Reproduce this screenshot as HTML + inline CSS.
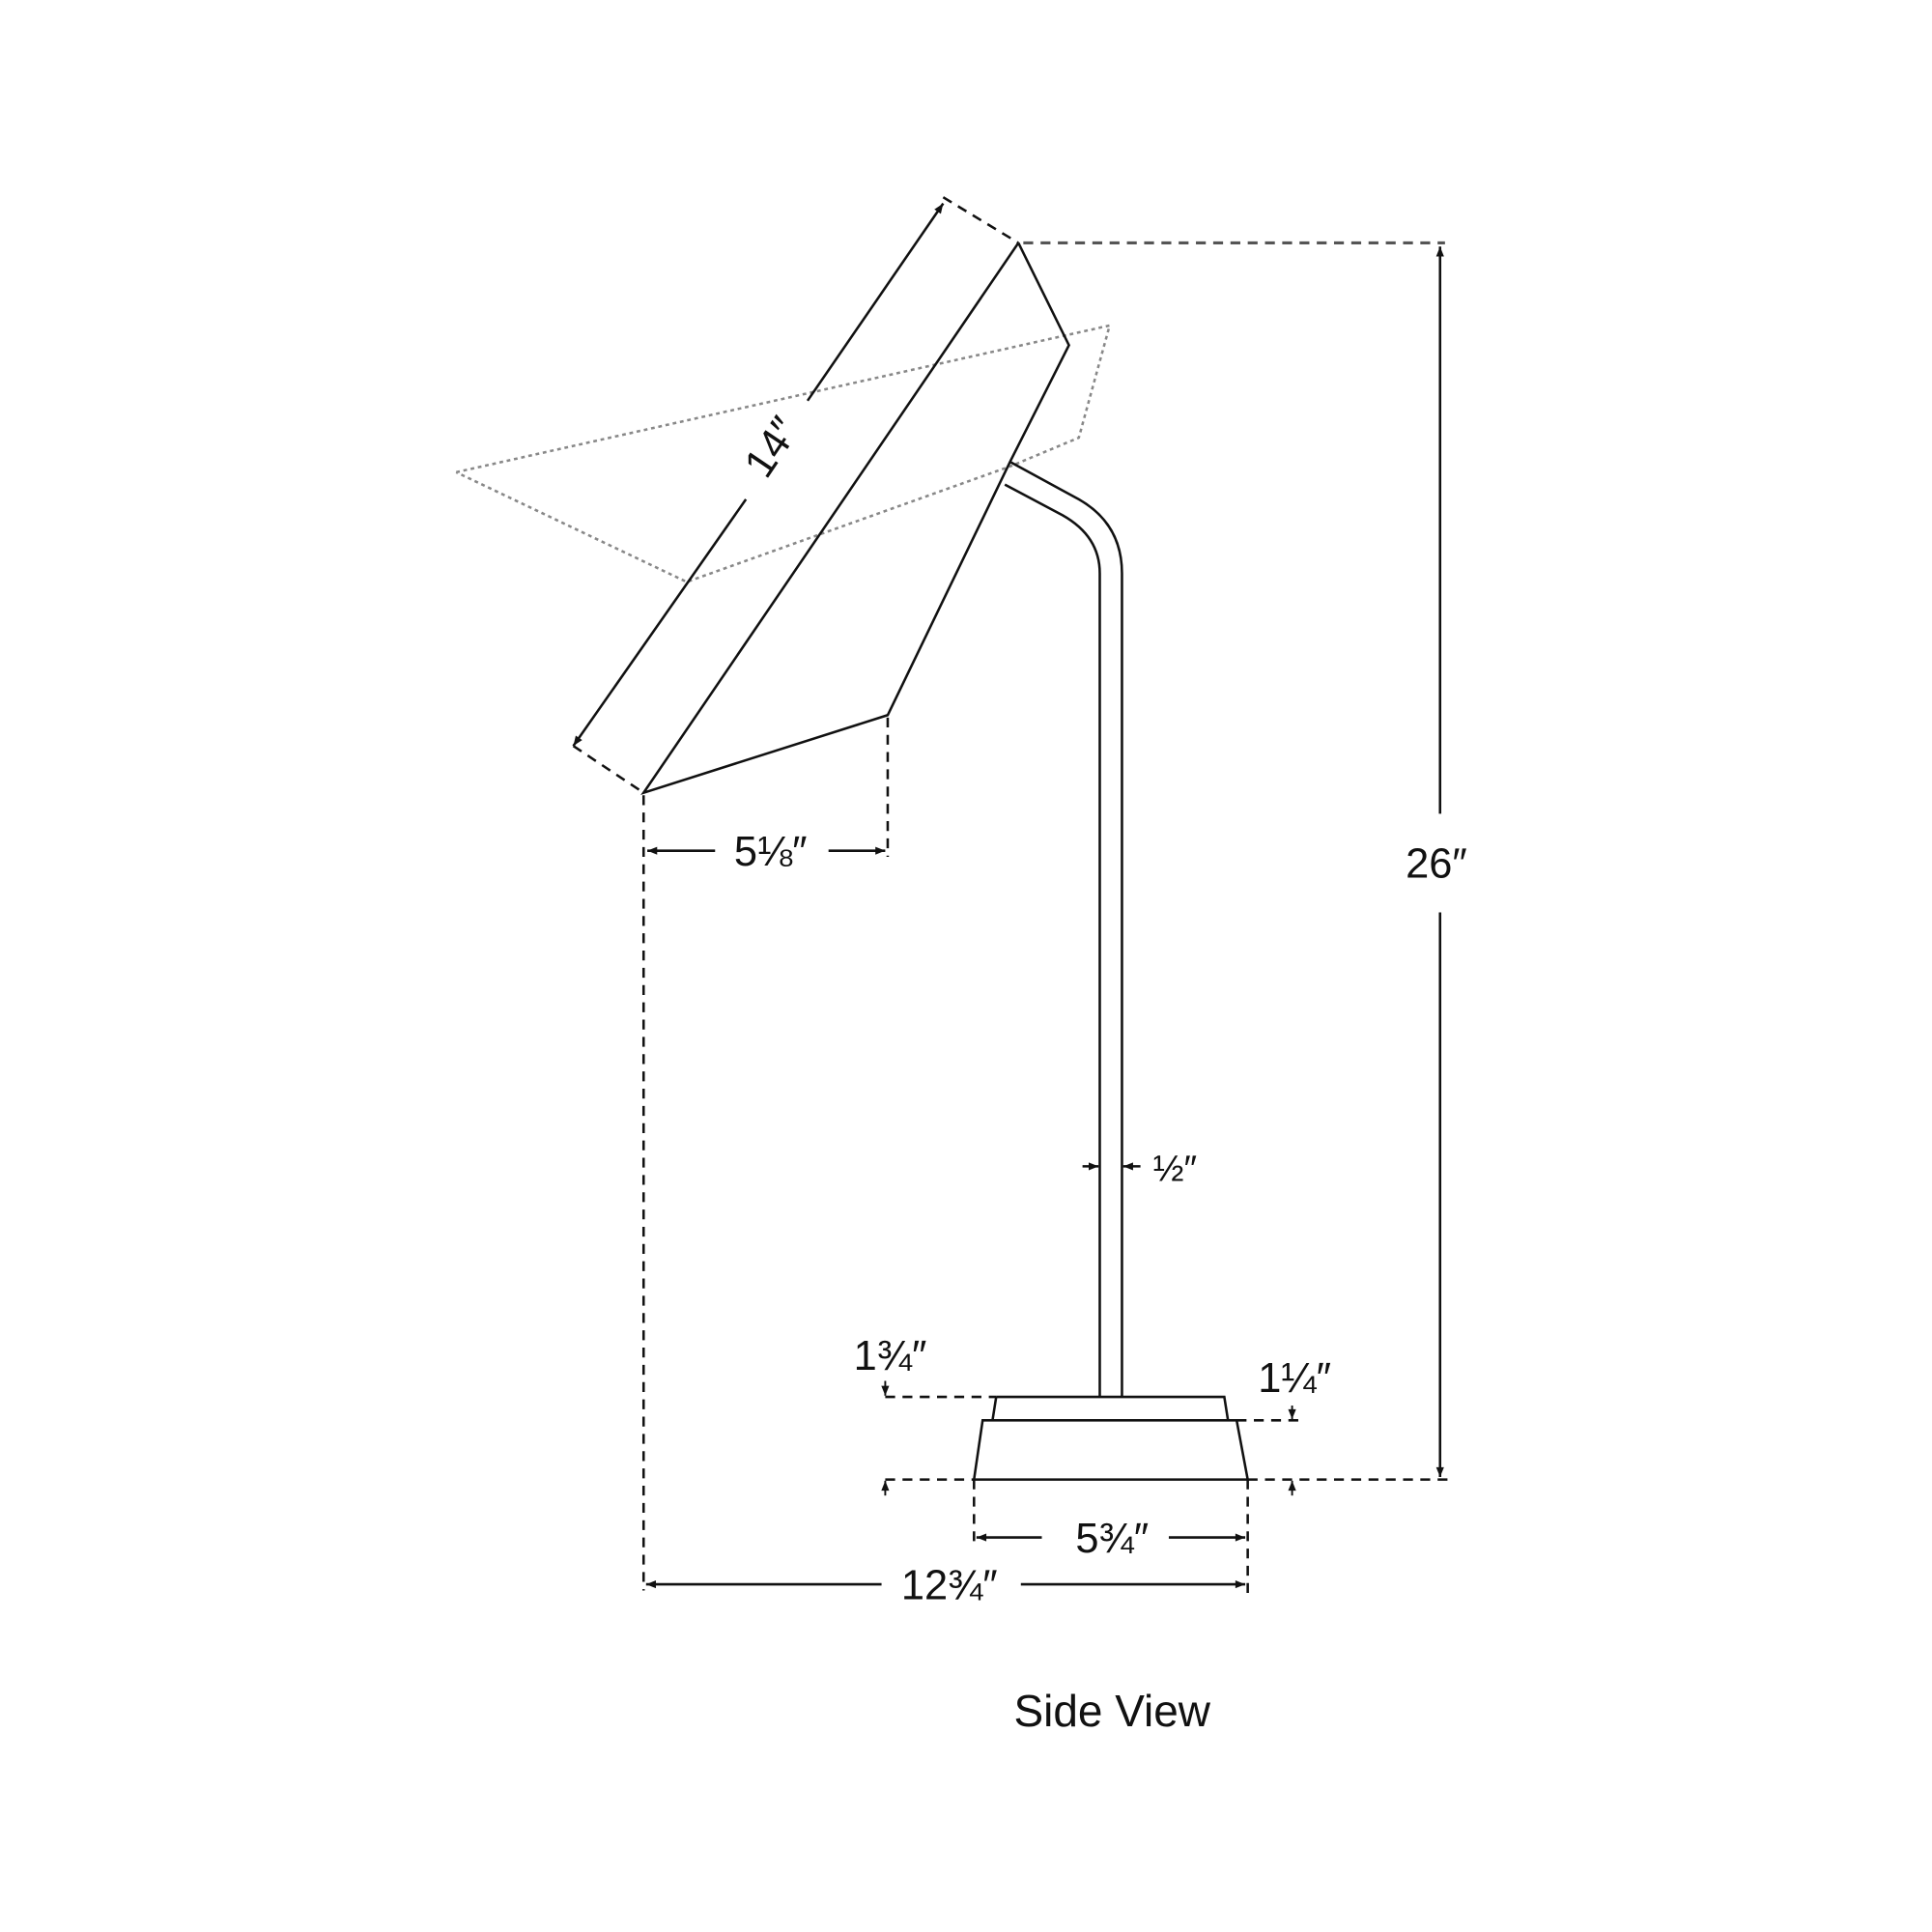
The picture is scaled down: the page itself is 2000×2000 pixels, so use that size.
<!DOCTYPE html>
<html><head><style>html,body{margin:0;padding:0;background:#fff}svg{display:block}</style></head>
<body>
<svg width="2000" height="2000" viewBox="0 0 1567 1567" xmlns="http://www.w3.org/2000/svg" font-family="Liberation Sans, sans-serif">
<defs>
<marker id="a" viewBox="0 0 10 10" refX="10" refY="5" markerWidth="10" markerHeight="8" orient="auto-start-reverse" markerUnits="userSpaceOnUse"><path d="M0,1 L10,5 L0,9 z" fill="#111"/></marker>
</defs>
<g fill="none" stroke="#111" stroke-width="2">
<g stroke="#888" stroke-width="2" stroke-dasharray="3,3">
<path d="M370,383 L900,264 L875,355 L820,378 L557,472 L370,383"/>
</g>
<path d="M826,197 L867,280 L820,373 L720,580 L522,643 L826,197"/>
<path d="M820,375 L875,405 Q910,425 910,465 L910,1133"/>
<path d="M815,393 L862,418 Q892,435 892,465 L892,1133"/>
<path d="M808,1133 L993,1133 L996,1152 M808,1133 L805,1152"/>
<path d="M797,1152 L1003,1152 L1012,1200 L790,1200 Z"/>
<g stroke-dasharray="8,6">
<path d="M765,160 L826,197"/>
<path d="M465,605 L522,643"/>
<path d="M830,197 L1172,197" stroke="#555" stroke-width="2.5"/>
<path d="M522,645 L522,1290"/>
<path d="M720,582 L720,695"/>
<path d="M718,1133 L808,1133"/>
<path d="M1003,1152 L1055,1152"/>
<path d="M718,1200 L790,1200"/>
<path d="M1012,1200 L1175,1200"/>
<path d="M790,1200 L790,1252"/>
<path d="M1012,1200 L1012,1292"/>
</g>
<path d="M655,325 L765,165" marker-end="url(#a)"/>
<path d="M605,405 L465,605" marker-end="url(#a)"/>
<path d="M1168,660 L1168,200" marker-end="url(#a)"/>
<path d="M1168,740 L1168,1198" marker-end="url(#a)"/>
<path d="M580,690 L525,690" marker-end="url(#a)"/>
<path d="M672,690 L718,690" marker-end="url(#a)"/>
<path d="M845,1247 L792,1247" marker-end="url(#a)"/>
<path d="M948,1247 L1010,1247" marker-end="url(#a)"/>
<path d="M715,1285 L524,1285" marker-end="url(#a)"/>
<path d="M828,1285 L1010,1285" marker-end="url(#a)"/>
<path d="M878,946 L891,946" marker-end="url(#a)"/>
<path d="M925,946 L911,946" marker-end="url(#a)"/>
<path d="M718,1120 L718,1132" marker-end="url(#a)" stroke-width="1.5"/>
<path d="M1048,1140 L1048,1151" marker-end="url(#a)" stroke-width="1.5"/>
<path d="M718,1213 L718,1201" marker-end="url(#a)" stroke-width="1.5"/>
<path d="M1048,1213 L1048,1201" marker-end="url(#a)" stroke-width="1.5"/>
</g>
<g fill="#111" font-size="34" text-anchor="middle">
<text x="625" y="702">5⅛″</text>
<text x="1165" y="712">26″</text>
<text x="902" y="1259">5¾″</text>
<text x="770" y="1297">12¾″</text>
<text x="953" y="958" font-size="30">½″</text>
<text x="722" y="1111">1¾″</text>
<text x="1050" y="1129">1¼″</text>
<text x="0" y="0" transform="translate(628,364) rotate(-56)" dominant-baseline="middle">14″</text>
<text x="902" y="1400" font-size="36">Side View</text>
</g>
</svg>
</body></html>
